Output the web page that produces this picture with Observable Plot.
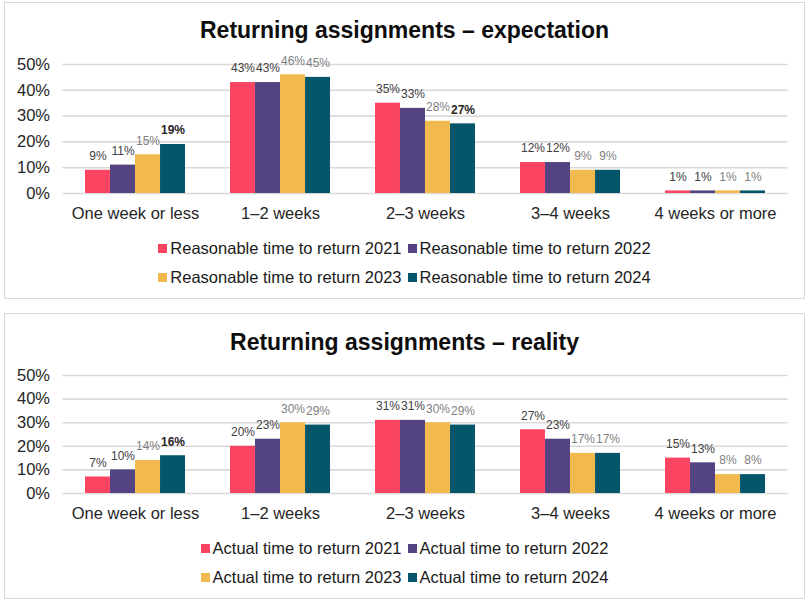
<!DOCTYPE html>
<html>
<head>
<meta charset="utf-8">
<script src="https://cdn.jsdelivr.net/npm/d3@7"></script>
<script src="https://cdn.jsdelivr.net/npm/@observablehq/plot@0.6"></script>
<style>
  body { margin: 0; background: #fff; font-family: "Liberation Sans", Arial, sans-serif; }
  .panel { position: absolute; left: 4px; width: 801px; border: 1px solid #d9d9d9; box-sizing: border-box; }
  .title { position: absolute; left: 0; width: 809px; text-align: center; font-weight: bold; font-size: 23px; height: 26px; line-height: 26px; color: #0d0d0d; }
  .plot { position: absolute; left: 0; }
  .legend { position: absolute; left: 0; width: 809px; display: grid; grid-template-columns: auto auto; justify-content: center; column-gap: 6px; line-height: 29px; font-size: 16.5px; color: #1a1a1a; }
  .item { display: flex; align-items: center; white-space: nowrap; }
  .sw { display: inline-block; width: 9px; height: 9px; margin-right: 3px; }
</style>
</head>
<body>
<div id="root"></div>
<script>
// ---- data ----
const categories = ["One week or less", "1–2 weeks", "2–3 weeks", "3–4 weeks", "4 weeks or more"];
const years = ["2021", "2022", "2023", "2024"];
const yTicks = [0, 10, 20, 30, 40, 50];

const expectation2021 = [9, 43, 35, 12, 1];
const expectation2022 = [11, 43, 33, 12, 1];
const expectation2023 = [15, 46, 28, 9, 1];
const expectation2024 = [19, 45, 27, 9, 1];

const reality2021 = [7, 20, 31, 27, 15];
const reality2022 = [10, 23, 31, 23, 13];
const reality2023 = [14, 30, 30, 17, 8];
const reality2024 = [16, 29, 29, 17, 8];

const expectationTitle = "Returning assignments – expectation";
const realityTitle = "Returning assignments – reality";
const expectationLegend = "Reasonable time to return";
const realityLegend = "Actual time to return";

// ---- style ----
const colors = ["#FB4461", "#534383", "#F2BA4E", "#05566A"];
const labelColors = ["#404040", "#404040", "#808080", "#808080"];
const expectationBold = [["One week or less", "2024"], ["2–3 weeks", "2024"]];
const realityBold = [["One week or less", "2024"]];

function rowsFrom(series) {
  return years.flatMap((yr, i) => categories.map((c, j) => ({category: c, year: yr, value: series[i][j]})));
}

function makeChart({series, top, marginTop, marginBottom, height, bold}) {
  const width = 809, ml = 62.5, mr = 21.5, pin = 0.31;
  const step = (width - ml - mr) / categories.length;
  const bw = step * (1 - pin);
  const sub = bw / years.length;
  const rows = rowsFrom(series);
  const isBold = d => bold.some(([c, y]) => c === d.category && y === d.year);
  const marks = [Plot.ruleY(yTicks, {stroke: "#d9d9d9", strokeWidth: 1.6})];
  years.forEach((yr, i) => {
    marks.push(Plot.barY(rows.filter(r => r.year === yr), {
      x: "category", y: "value", fill: colors[i],
      insetLeft: i * sub, insetRight: (years.length - 1 - i) * sub
    }));
  });
  years.forEach((yr, i) => {
    const d = rows.filter(r => r.year === yr);
    const dx = (i - (years.length - 1) / 2) * sub;
    marks.push(Plot.text(d.filter(r => !isBold(r)), {
      x: "category", y: "value", text: r => r.value + "%", dx, dy: -14,
      fontSize: 12, fill: labelColors[i]
    }));
    marks.push(Plot.text(d.filter(r => isBold(r)), {
      x: "category", y: "value", text: r => r.value + "%", dx, dy: -14,
      fontSize: 12, fontWeight: "bold", fill: "#262626"
    }));
  });
  marks.push(Plot.axisY({ticks: yTicks, tickFormat: d => d + "%", tickSize: 0, tickPadding: 13, fontSize: 16.5, fill: "#262626", label: null}));
  marks.push(Plot.axisX({tickSize: 0, tickPadding: 14, fontSize: 16.5, fill: "#262626", label: null}));
  const svg = Plot.plot({
    width, height, marginLeft: ml, marginRight: mr, marginTop, marginBottom,
    style: {fontFamily: "Liberation Sans, Arial, sans-serif", fontSize: "16.5px", background: "transparent"},
    x: {domain: categories, paddingInner: pin, paddingOuter: pin / 2, axis: null},
    y: {domain: [0, 50], axis: null},
    marks
  });
  svg.classList.add("plot");
  svg.style.top = top + "px";
  return svg;
}

function el(tag, cls, css, text) {
  const e = document.createElement(tag);
  if (cls) e.className = cls;
  Object.assign(e.style, css || {});
  if (text != null) e.textContent = text;
  return e;
}

function makeLegend(prefix, top) {
  const div = el("div", "legend", {top: top + "px"});
  years.forEach((yr, i) => {
    const item = el("div", "item");
    item.appendChild(el("span", "sw", {background: colors[i]}));
    item.appendChild(el("span", null, {}, prefix + " " + yr));
    div.appendChild(item);
  });
  return div;
}

const root = document.getElementById("root");
// top panel
root.appendChild(el("div", "panel", {top: "2px", height: "297px"}));
root.appendChild(el("div", "title", {top: "17px"}, expectationTitle));
root.appendChild(makeChart({
  series: [expectation2021, expectation2022, expectation2023, expectation2024],
  top: 50, height: 180, marginTop: 14, marginBottom: 37, bold: expectationBold
}));
root.appendChild(makeLegend(expectationLegend, 234));
// bottom panel
root.appendChild(el("div", "panel", {top: "313px", height: "286px"}));
root.appendChild(el("div", "title", {top: "329px"}, realityTitle));
root.appendChild(makeChart({
  series: [reality2021, reality2022, reality2023, reality2024],
  top: 360, height: 180, marginTop: 15, marginBottom: 47, bold: realityBold
}));
root.appendChild(makeLegend(realityLegend, 534));
</script>
</body>
</html>
